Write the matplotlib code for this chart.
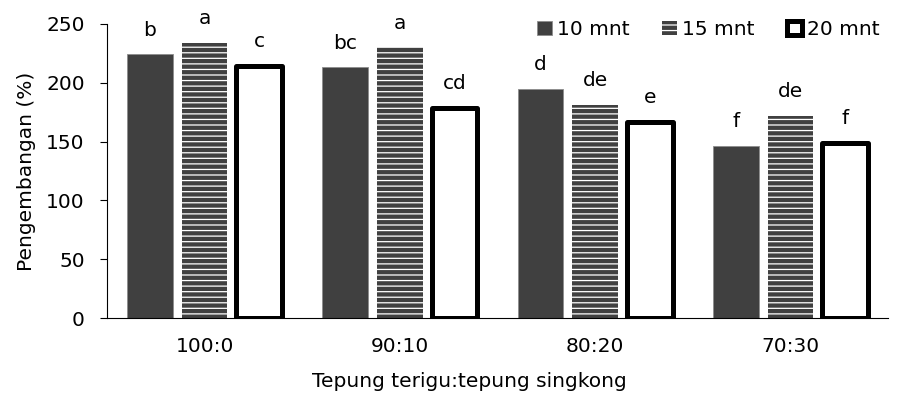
import matplotlib.pyplot as plt
import numpy as np

plt.rcParams['font.family'] = ['DejaVu Sans']
plt.rcParams['hatch.linewidth'] = 0.9

categories = ["100:0", "90:10", "80:20", "70:30"]
series_names = ["10 mnt", "15 mnt", "20 mnt"]
val_10 = [224, 213, 194.5, 146]
val_15 = [234, 230, 181, 172]
val_20 = [214, 178.5, 166.5, 149]
lab_10 = ["b", "bc", "d", "f"]
lab_15 = ["a", "a", "de", "de"]
lab_20 = ["c", "cd", "e", "f"]

fs = 14.5

fig = plt.figure(figsize=(8.98, 3.98), dpi=100)
ax = fig.add_axes([0.119, 0.201, 0.870, 0.739])

x = np.arange(len(categories))
w = 0.233
step = 0.28

b1 = ax.bar(x - step, val_10, width=w, color="#404040", edgecolor="#8c8c8c",
            linewidth=0.6, label=series_names[0])
b2 = ax.bar(x, val_15, width=w, color="#404040", edgecolor="white",
            linewidth=0, hatch="---", label=series_names[1])
b3 = ax.bar(x + step, val_20, width=w, color="white", edgecolor="black",
            linewidth=3.6, joinstyle="round", label=series_names[2])

for bars, labels in [(b1, lab_10), (b2, lab_15), (b3, lab_20)]:
    for rect, lab in zip(bars, labels):
        ax.annotate(lab, (rect.get_x() + rect.get_width() / 2, rect.get_height()),
                    xytext=(0, 13.5), textcoords="offset points",
                    ha="center", va="baseline", fontsize=fs)

ax.set_xlim(-0.5, 3.5)
ax.set_ylim(0, 250)
ax.set_yticks([0, 50, 100, 150, 200, 250])
ax.set_xticks(x)
ax.set_xticklabels(categories)
ax.tick_params(axis="x", length=0, labelsize=fs, pad=14)
ax.tick_params(axis="y", length=5, width=0.8, labelsize=fs, pad=11)
for s in ["top", "right"]:
    ax.spines[s].set_visible(False)
ax.spines["left"].set_linewidth(0.8)
ax.spines["bottom"].set_linewidth(0.8)

ax.set_ylabel("Pengembangan (%)", fontsize=fs, labelpad=7)
ax.set_xlabel("Tepung terigu:tepung singkong", fontsize=fs, labelpad=6)
ax.xaxis.set_label_coords(0.4635, -0.185)
ax.xaxis.label.set_verticalalignment("top")

ax.legend(loc="upper right", bbox_to_anchor=(1.012, 1.075), ncol=3, frameon=False,
          fontsize=fs, handlelength=0.75, handleheight=0.75, handletextpad=0.25,
          columnspacing=1.6)

fig.savefig("out.png", dpi=100)
